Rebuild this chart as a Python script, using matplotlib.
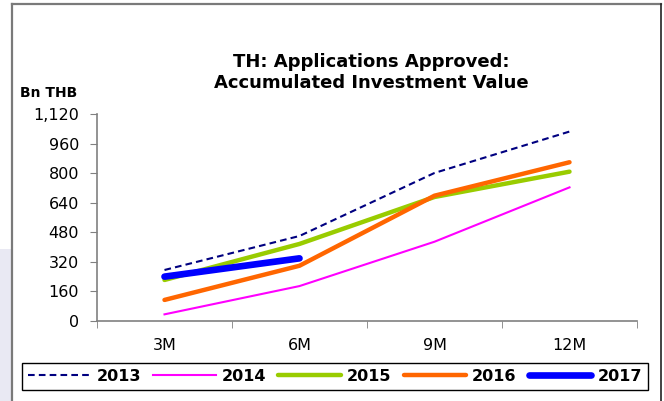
import matplotlib.pyplot as plt
from matplotlib.lines import Line2D
from matplotlib.patches import Rectangle
from matplotlib.ticker import FuncFormatter

plt.rcParams['font.family'] = ['DejaVu Sans']

periods = ['3M', '6M', '9M', '12M']
y_ticks = [0, 160, 320, 480, 640, 800, 960, 1120]

val_2013 = [276, 460, 801, 1025]
val_2014 = [36, 189, 429, 723]
val_2015 = [222, 417, 671, 808]
val_2016 = [114, 299, 678, 859]
val_2017 = [240, 339]

W, H = 664, 401
fig = plt.figure(figsize=(W / 100, H / 100), dpi=100)

# faint backdrop to the left of the frame
fig.add_artist(Rectangle((0, 0), 11 / W, 0.38, transform=fig.transFigure,
                         facecolor='#e9e9f3', edgecolor='none'))
# outer frame
fig.add_artist(Line2D([12 / W, 12 / W], [0, 1 - 4 / H], transform=fig.transFigure,
                      color='#7a7a7a', lw=1.6))
fig.add_artist(Line2D([12 / W, 661 / W], [1 - 4 / H, 1 - 4 / H], transform=fig.transFigure,
                      color='#7a7a7a', lw=1.6))
fig.add_artist(Line2D([661 / W, 661 / W], [0, 1 - 4 / H], transform=fig.transFigure,
                      color='#222222', lw=1.2))

ax = fig.add_axes([97 / W, 1 - 321 / H, (637 - 97) / W, (321 - 114) / H])
x = list(range(len(periods)))

ax.plot(x, val_2013, color='#000080', lw=1.5, ls=(0, (3.2, 2.0)), label='2013')
ax.plot(x, val_2014, color='#ff00ff', lw=1.5, label='2014')
ax.plot(x, val_2015, color='#99cc00', lw=3.2, solid_capstyle='round', label='2015')
ax.plot(x, val_2016, color='#ff6600', lw=3.2, solid_capstyle='round', label='2016')
ax.plot(x[:len(val_2017)], val_2017, color='#0000ff', lw=4.8, solid_capstyle='round',
        label='2017')

ax.set_xlim(-0.5, 3.5)
ax.set_ylim(0, 1120)
ax.set_yticks(y_ticks)
ax.yaxis.set_major_formatter(FuncFormatter(lambda v, p: f'{int(v):,}'))
ax.set_xticks(x)
ax.set_xticklabels(periods)
ax.set_xticks([-0.5, 0.5, 1.5, 2.5, 3.5], minor=True)
ax.tick_params(axis='x', which='major', length=0, pad=12, labelsize=11.5)
ax.tick_params(axis='x', which='minor', length=5, direction='out', color='#808080')
ax.tick_params(axis='y', length=5, direction='out', color='#808080', labelsize=11.5, pad=8)

for s in ['top', 'right']:
    ax.spines[s].set_visible(False)
for s in ['left', 'bottom']:
    ax.spines[s].set_color('#808080')
    ax.spines[s].set_linewidth(1.2)

fig.text(371 / W, 1 - 72.5 / H, 'TH: Applications Approved:\nAccumulated Investment Value',
         ha='center', va='center', fontsize=13, fontweight='bold', linespacing=1.15)
fig.text(20 / W, 1 - 93 / H, 'Bn THB', ha='left', va='center', fontsize=10, fontweight='bold')

leg = fig.legend(loc='center left', bbox_to_anchor=(22 / W, 1 - 376.5 / H), ncol=5,
                 frameon=True, fancybox=False, edgecolor='black', framealpha=1,
                 prop={'weight': 'bold', 'size': 11.5}, handlelength=3.9, handletextpad=0.4,
                 columnspacing=0.75, borderpad=0.38, borderaxespad=0)
leg.get_frame().set_linewidth(1.0)

fig.savefig('out.png', dpi=100)
